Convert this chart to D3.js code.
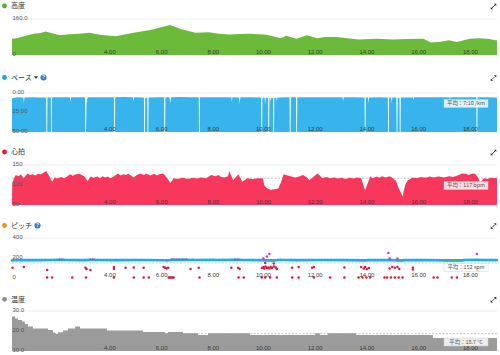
<!DOCTYPE html>
<html><head><meta charset="utf-8">
<script src="https://cdn.jsdelivr.net/npm/d3@7"></script>
<style>
body{margin:0;background:#fff;}
svg{display:block;font-family:"Liberation Sans","Noto Sans CJK JP",sans-serif;}
</style></head>
<body><svg id="c" width="500" height="355"></svg>
<script>
// ---------- data ----------
const xTicks = [4, 6, 8, 10, 12, 14, 16, 18];
const distanceMax = 18.75;

const elevation = [[0,72],[0.18,75],[0.5,85],[0.83,94],[1.1,98],[1.3,104],[1.47,99],[1.7,92],[1.85,88],[2.2,92],[2.6,94],[3.0,99],[3.2,94],[3.4,90],[4.0,83],[4.7,99],[5.35,111],[6.1,133],[6.55,115],[7.1,99],[7.6,101],[8.0,94],[8.4,91],[8.8,93],[9.2,94],[9.85,90],[10.4,75],[10.6,86],[11.0,72],[11.4,88],[11.8,75],[12.1,80],[12.55,80],[13.4,69],[14.1,72],[14.7,69],[15.3,71],[15.9,72],[16.2,56],[16.5,58],[16.9,66],[17.2,58],[17.7,72],[18.1,75],[18.45,71],[18.75,64]];

const pace = [[0,6.8],[0.2,5.6],[0.44,5.8],[0.46,13],[0.48,5.7],[0.8,5.5],[1.1,5.7],[1.32,5.8],[1.33,50],[1.36,50],[1.37,5.8],[1.5,5.6],[1.51,50],[1.54,50],[1.55,5.6],[1.8,5.4],[2.24,5.6],[2.26,12],[2.28,5.5],[2.6,5.3],[2.82,5.6],[2.83,50],[2.86,50],[2.88,14],[2.92,5.5],[3.3,5.4],[3.6,5.5],[3.94,5.6],[3.95,50],[3.98,50],[3.99,5.6],[4.3,5.2],[4.68,5.4],[4.7,11],[4.72,5.3],[5.1,5.9],[5.11,50],[5.14,50],[5.15,6.0],[5.23,6.0],[5.24,50],[5.27,50],[5.28,5.8],[5.6,5.5],[5.88,5.6],[5.89,50],[5.92,50],[5.93,5.6],[6.09,5.6],[6.12,13],[6.15,5.4],[6.5,5.2],[6.9,5.4],[7.22,5.5],[7.23,50],[7.26,50],[7.27,5.5],[7.6,5.4],[8.0,5.6],[8.48,5.5],[8.5,12],[8.52,5.6],[8.78,5.7],[8.8,14],[8.83,5.6],[9.2,5.4],[9.63,5.8],[9.64,50],[9.67,50],[9.68,6.2],[9.77,6.1],[9.79,15],[9.81,6.0],[9.9,6.2],[9.91,50],[9.94,50],[9.95,6.5],[9.98,6.4],[10.0,12],[10.02,6.2],[10.09,6.1],[10.1,50],[10.13,50],[10.14,6.0],[10.22,6.0],[10.24,11],[10.26,5.8],[10.73,5.6],[10.74,50],[10.77,50],[10.78,5.6],[10.98,5.6],[10.99,50],[11.02,50],[11.03,5.5],[11.5,5.4],[12.0,5.3],[12.5,5.4],[12.78,5.5],[12.8,11],[12.82,5.5],[13.2,5.6],[13.63,5.7],[13.64,50],[13.67,50],[13.68,5.9],[13.76,5.8],[13.78,13],[13.8,5.7],[14.2,5.6],[14.53,5.8],[14.54,50],[14.57,50],[14.58,5.9],[14.66,5.9],[14.68,13],[14.7,5.8],[14.86,5.8],[14.87,50],[14.9,50],[14.91,6.0],[14.98,6.0],[14.99,50],[15.02,50],[15.03,5.8],[15.5,5.7],[15.52,9],[15.54,5.6],[16.0,5.4],[16.5,5.5],[16.91,5.6],[16.93,8],[16.95,5.5],[17.5,5.4],[17.95,5.5],[17.96,50],[17.99,50],[18.0,5.5],[18.4,5.5],[18.75,5.8]];

const heartRate = [[0,60],[0.01,105],[0.1,120],[0.15,125],[0.25,122],[0.35,126],[0.45,117],[0.6,129],[0.7,125],[0.8,127],[0.9,124],[1.0,128],[1.1,126],[1.2,130],[1.32,135],[1.45,121],[1.55,108],[1.65,119],[1.75,116],[1.9,120],[2.0,117],[2.1,120],[2.25,127],[2.35,123],[2.45,126],[2.6,128],[2.7,125],[2.8,121],[2.92,110],[3.05,121],[3.15,118],[3.3,121],[3.4,117],[3.5,122],[3.6,119],[3.7,121],[3.8,117],[3.9,120],[4.1,129],[4.2,124],[4.3,127],[4.4,125],[4.5,128],[4.7,119],[4.8,124],[4.95,129],[5.1,125],[5.2,128],[5.35,124],[5.5,128],[5.6,124],[5.7,127],[5.85,129],[6.0,117],[6.12,105],[6.25,117],[6.4,115],[6.6,118],[6.8,115],[7.0,118],[7.15,116],[7.3,119],[7.5,117],[7.7,125],[7.85,122],[8.0,125],[8.05,121],[8.2,119],[8.35,122],[8.4,135],[8.55,112],[8.75,127],[8.9,108],[9.1,117],[9.3,115],[9.5,117],[9.7,116],[9.75,100],[9.85,92],[10.0,88],[10.2,90],[10.3,92],[10.4,107],[10.5,127],[10.65,124],[10.8,121],[10.95,119],[11.1,121],[11.25,125],[11.4,119],[11.5,112],[11.65,120],[11.8,129],[11.9,124],[12.0,117],[12.15,120],[12.3,117],[12.45,119],[12.6,116],[12.75,118],[12.9,115],[13.05,118],[13.2,116],[13.35,119],[13.5,117],[13.65,87],[13.85,121],[13.95,117],[14.1,121],[14.2,118],[14.3,122],[14.45,119],[14.6,122],[14.7,118],[14.85,110],[14.95,92],[15.1,71],[15.2,100],[15.3,112],[15.5,119],[15.65,117],[15.8,120],[16.0,118],[16.15,121],[16.3,119],[16.5,121],[16.7,119],[16.9,122],[17.05,120],[17.2,123],[17.4,129],[17.55,128],[17.65,125],[17.8,129],[17.9,128],[18.0,120],[18.1,107],[18.25,117],[18.4,115],[18.5,118],[18.75,117]];

const cadence = [[0,168],[0.1,178],[0.5,180],[1.0,179],[1.5,180],[1.8,186],[2.0,186],[2.1,180],[2.8,179],[3.0,187],[3.2,187],[3.3,180],[4.0,179],[5.0,180],[5.9,178],[6.0,168],[6.1,178],[6.15,188],[6.8,188],[6.9,180],[7.0,186],[7.1,180],[7.8,186],[7.9,180],[8.6,186],[8.8,186],[8.9,180],[9.6,179],[9.8,175],[10.0,168],[10.15,168],[10.3,180],[10.4,186],[10.5,180],[11.0,179],[12.0,180],[13.0,179],[13.65,168],[13.8,179],[14.5,180],[14.9,168],[15.1,168],[15.2,179],[16.0,180],[16.7,168],[17.4,168],[17.5,180],[18.0,186],[18.1,180],[18.75,179]];

const cadenceOutliers = [[0.02,103],[0.46,110],[1.36,80],[1.36,0],[1.55,0],[2.33,0],[2.84,103],[2.88,90],[3.03,80],[2.86,0],[3.94,110],[3.94,90],[3.94,0],[4.39,103],[4.71,105],[4.71,0],[5.09,103],[5.09,0],[5.29,0],[5.86,110],[5.92,103],[5.98,95],[6.04,103],[6.06,0],[6.1,0],[6.15,0],[6.2,0],[6.25,0],[6.9,90],[7.22,103],[7.25,0],[8.48,103],[8.74,103],[8.8,90],[8.76,0],[8.96,0],[9.66,100],[9.72,110],[9.75,95],[9.8,115],[9.85,100],[9.9,105],[9.95,95],[10.0,110],[10.05,100],[10.12,115],[10.2,105],[10.24,90],[9.66,0],[9.79,0],[9.98,0],[10.24,0],[10.83,103],[10.83,0],[11.08,110],[11.08,0],[11.6,103],[11.67,110],[11.67,0],[12.3,0],[12.85,105],[12.85,0],[13.5,110],[13.6,95],[13.65,110],[13.72,90],[13.8,100],[13.4,0],[13.55,0],[13.7,0],[13.85,0],[14.6,95],[14.7,110],[14.8,103],[14.9,110],[14.97,90],[14.4,0],[14.5,0],[14.65,0],[14.8,0],[14.95,0],[15.1,0],[15.5,103],[15.5,85],[16.3,0],[16.45,0],[17.0,0],[17.2,0],[17.97,110],[9.72,195],[9.85,215],[9.95,240],[14.55,250],[14.6,195],[14.9,195],[17.97,240],[9.79,150],[10.12,145]];

const temperature = [[0,27.2],[0.12,26.3],[0.23,25.5],[0.39,24.7],[0.5,23.5],[0.62,22.2],[0.81,21.3],[1.39,20.5],[1.58,19.3],[1.66,18.6],[1.78,19.4],[1.97,20.3],[2.16,21.3],[2.44,22.2],[2.63,21.3],[3.67,20.3],[5.06,19.5],[5.91,18.9],[6.03,19.5],[6.61,18.9],[7.19,18.0],[7.58,18.9],[9.2,18.0],[11.72,18.9],[11.9,18.0],[12.2,18.9],[13.3,18.0],[16.27,16.5],[18.75,16.5]];

const titles = ["高度", "ペース", "心拍", "ピッチ", "温度"];
const averages = {pace: 7.1667, heartRate: 117, cadence: 152, temperature: 18.7};
const averageLabels = ["平均：7:10 /km", "平均：117 bpm", "平均：152 spm", "平均：18.7 °C"];
const yTickLabels = {
  elevation: [[160, "160.0"], [0, "0"]],
  pace: [[0, "0:00"], [25, "25:00"], [50, "50:00"]],
  heartRate: [[150, "150"], [100, "100"], [50, "50"]],
  cadence: [[400, "400"], [200, "200"], [0, "0"]],
  temperature: [[30, "30.0"], [20, "20.0"], [10, "10.0"]]
};

// ---------- drawing ----------
const svg = d3.select("#c");
const x = d3.scaleLinear().domain([0, distanceMax]).range([12, 497]);

const panels = [
  {key:"elevation", data:elevation, y:d3.scaleLinear().domain([0,160]).range([55,19]), base:0, color:"#6cba3a", dot:"#4fae2a", title:titles[0], ty:6},
  {key:"pace", data:pace, y:d3.scaleLinear().domain([0,50]).range([93,132]), base:50, color:"#37b4ec", dot:"#1aa3e6", title:titles[1], ty:77.5, help:true, caret:true, avg:averages.pace, avgLabel:averageLabels[0]},
  {key:"heartRate", data:heartRate, y:d3.scaleLinear().domain([50,150]).range([205,165]), base:50, color:"#f7375c", dot:"#e5163c", title:titles[2], ty:152, avg:averages.heartRate, avgLabel:averageLabels[1]},
  {key:"cadence", data:null, y:d3.scaleLinear().domain([0,400]).range([278,238]), base:0, color:"#20a8e8", dot:"#f0901a", title:titles[3], ty:225.5, help:true, avg:averages.cadence, avgLabel:averageLabels[2]},
  {key:"temperature", data:temperature, y:d3.scaleLinear().domain([10,30]).range([351,311]), base:10, color:"#9b9b9b", dot:"#8c8c8c", title:titles[4], ty:299.3, step:true, avg:averages.temperature, avgLabel:averageLabels[3]}
];

function cadColor(v){
  if (v > 183) return "#c03cc8";
  if (v >= 174) return "#22a9ea";
  if (v >= 164) return "#5cb82c";
  if (v >= 153) return "#f39a1e";
  return "#dc1a40";
}

panels.forEach(p => {
  const g = svg.append("g");
  const y = p.y;
  const top = Math.min(...y.range());
  const bottom = Math.max(...y.range());

  // title
  g.append("circle").attr("cx", 4.5).attr("cy", p.ty).attr("r", 2.4).attr("fill", p.dot);
  g.append("text").attr("x", 11).attr("y", p.ty).attr("dy", "0.35em")
    .attr("font-size", 7).attr("fill", "#333").attr("font-family", "Noto Sans CJK JP").text(p.title);
  let tx = 11 + p.title.length * 7 + 2;
  if (p.caret) {
    g.append("path").attr("d", `M${tx},${p.ty-1.2} l4,0 l-2,2.6 z`).attr("fill", "#333");
    tx += 7;
  } else if (p.help) { tx += 1; }
  if (p.help) {
    g.append("circle").attr("cx", tx + 2.5).attr("cy", p.ty).attr("r", 3).attr("fill", "#2b78d0");
    g.append("text").attr("x", tx + 2.5).attr("y", p.ty).attr("dy", "0.36em").attr("text-anchor", "middle")
      .attr("font-size", 4.8).attr("font-weight", "bold").attr("fill", "#fff").text("?");
  }
  // expand icon
  const ex = 493.5, ey = p.ty + 0.5;
  g.append("path").attr("d", `M${ex-1.5},${ey+1.5} L${ex+1.5},${ey-1.5}`).attr("stroke", "#222").attr("stroke-width", 0.8);
  g.append("path").attr("d", `M${ex+2.8},${ey-2.8} l-2.4,0 l2.4,2.4 z M${ex-2.8},${ey+2.8} l2.4,0 l-2.4,-2.4 z`).attr("fill", "#222");

  // top gridline
  g.append("line").attr("x1", 12).attr("x2", 497).attr("y1", top).attr("y2", top)
    .attr("stroke", "#ececec").attr("stroke-width", 1);

  // average dashed line (under area)
  if (p.avg !== undefined && p.key !== "cadence" && p.key !== "pace") {
    g.append("line").attr("x1", 12).attr("x2", 497).attr("y1", y(p.avg)).attr("y2", y(p.avg))
      .attr("stroke", "#b5b5b5").attr("stroke-width", 0.8).attr("stroke-dasharray", "2,1.5");
  }

  if (p.key !== "cadence") {
    const area = d3.area().x(d => x(d[0])).y0(y(p.base)).y1(d => y(d[1]));
    if (p.step) area.curve(d3.curveStepAfter);
    g.append("path").datum(p.data).attr("d", area).attr("fill", p.color);
  } else {
    g.append("line").attr("x1", 12).attr("x2", 497).attr("y1", y(p.avg)).attr("y2", y(p.avg))
      .attr("stroke", "#8fd3f2").attr("stroke-width", 0.8).attr("stroke-dasharray", "2,1.5");
    // main blue band
    const line = d3.line().x(d => x(d[0])).y(d => y(Math.min(Math.max(d[1], 176), 181)));
    g.append("path").datum(cadence).attr("d", line).attr("fill", "none")
      .attr("stroke", "#22a9ea").attr("stroke-width", 2.6).attr("stroke-linecap", "round");
    // zone-coloured overlays where cadence leaves the blue zone
    const segs = d3.pairs(cadence).filter(d => cadColor(d[0][1]) !== "#22a9ea" && cadColor(d[0][1]) === cadColor(d[1][1]));
    g.selectAll("line.cad").data(segs).join("line")
      .attr("x1", d => x(d[0][0])).attr("y1", d => y(d[0][1]))
      .attr("x2", d => x(d[1][0])).attr("y2", d => y(d[1][1]))
      .attr("stroke", d => cadColor(d[0][1]))
      .attr("stroke-width", 1.6).attr("stroke-dasharray", "1.6,0.8");
    g.selectAll("circle.out").data(cadenceOutliers).join("circle")
      .attr("cx", d => x(d[0])).attr("cy", d => y(d[1]) - (d[1] === 0 ? 0.5 : 0)).attr("r", 1.25)
      .attr("fill", d => cadColor(d[1]));
  }

  // y tick labels
  yTickLabels[p.key].forEach(([v, s]) => {
    g.append("text").attr("x", 12.5).attr("y", y(v) - 1.2).attr("dy", "0.35em")
      .attr("font-size", 6).attr("fill", "#555").text(s);
  });
  // x tick labels
  g.selectAll("text.xt").data(xTicks).join("text")
    .attr("x", d => x(d) + 0.3).attr("y", bottom - 3.3).attr("dy", "0.35em").attr("text-anchor", "end")
    .attr("font-size", 6).attr("fill", "#3a3a3a").text(d => d.toFixed(2));

  // average label box
  if (p.avgLabel) {
    const by = p.key === "pace" ? 103.5 : p.key === "heartRate" ? 185.5 : p.key === "cadence" ? 267.5 : 342;
    g.append("rect").attr("x", 444).attr("y", by - 4).attr("width", 44).attr("height", 8)
      .attr("fill", "rgba(255,255,255,0.82)").attr("stroke", "#d0d0d0").attr("stroke-width", 0.5);
    g.append("text").attr("x", 466).attr("y", by).attr("dy", "0.35em").attr("text-anchor", "middle")
      .attr("font-size", 5.4).attr("fill", "#555").attr("font-family", "Noto Sans CJK JP").text(p.avgLabel);
  }
});
</script></body></html>
